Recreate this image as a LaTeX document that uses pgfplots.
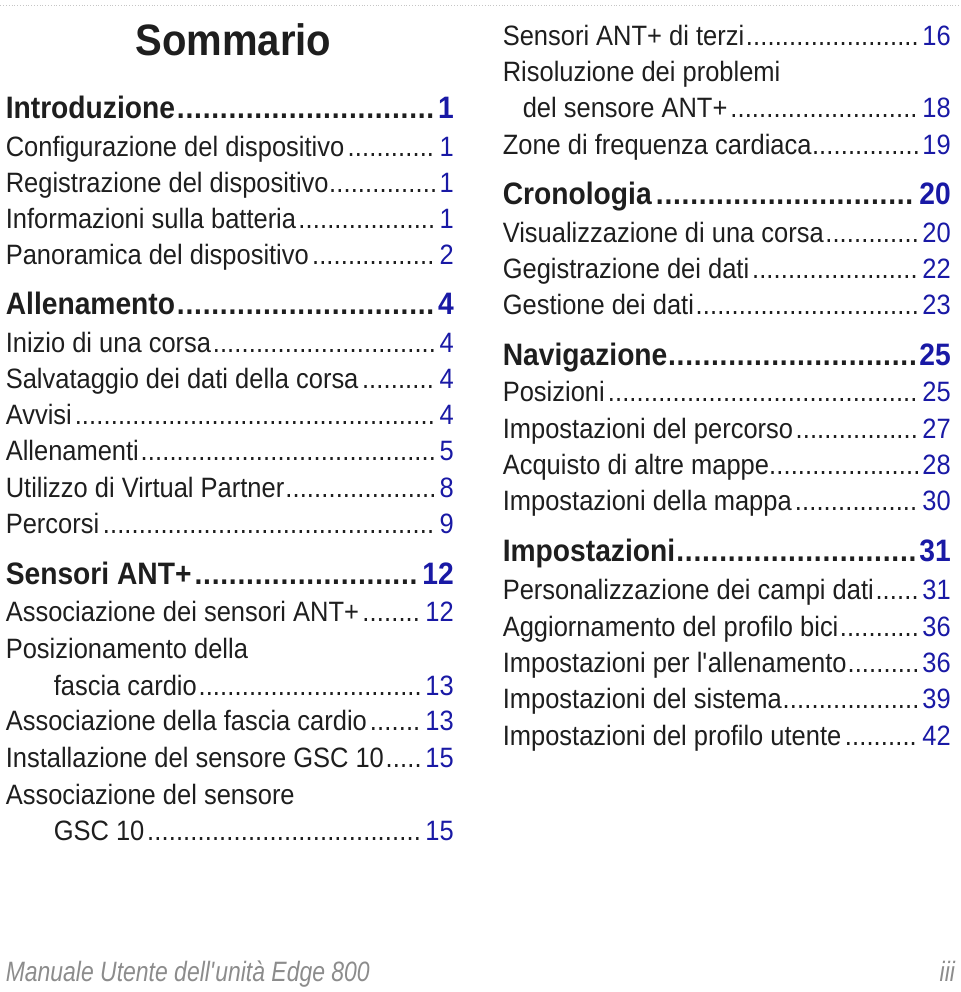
\documentclass[border=0pt]{standalone}
\usepackage{pgfplots}
\pgfplotsset{compat=1.18}
\usepackage{fontspec}
\setmainfont[FakeStretch=0.91]{Liberation Sans}
\newfontfamily\footfont[FakeStretch=0.82]{Liberation Sans}

\definecolor{tocdark}{RGB}{30,30,30}
\definecolor{tocblue}{RGB}{25,25,165}
\definecolor{tocgray}{RGB}{140,140,140}

% one picture pixel
\newlength\pxu
\setlength\pxu{0.5pt}

\newcommand{\leadA}{\cleaders\hbox to 3.6pt{\hss.\hss}\hfill}
\newcommand{\leadB}{\cleaders\hbox to 4.3pt{\hss.\hss}\hfill}

% x, baseline y, width (px), text, page
\newcommand{\entry}[5]{%
  \node[anchor=base west, inner sep=0pt] at (axis cs:#1,#2)
    {\makebox[#3\pxu][l]{\fontsize{14}{16}\selectfont\color{tocdark}#4\leadA\kern1pt{\color{tocblue}#5}}};}
\newcommand{\head}[5]{%
  \node[anchor=base west, inner sep=0pt] at (axis cs:#1,#2)
    {\makebox[#3\pxu][l]{\fontsize{15.5}{17}\selectfont\bfseries\color{tocdark}#4\leadB\kern1pt{\color{tocblue}#5}}};}
\newcommand{\plain}[3]{%
  \node[anchor=base west, inner sep=0pt] at (axis cs:#1,#2)
    {\fontsize{14}{16}\selectfont\color{tocdark}#3};}

\begin{document}
\begin{tikzpicture}
\begin{axis}[
    width=480pt, height=496pt, scale only axis,
    xmin=0, xmax=960, ymin=0, ymax=992, y dir=reverse,
    hide axis, clip=false]
\addplot[draw=none] coordinates {(0,0) (960,992)};

% dotted rule at the top
\draw[densely dotted, gray!45, line width=0.4pt] (axis cs:0,5) -- (axis cs:960,5);

\node[anchor=base, inner sep=0pt] at (axis cs:233,55)
  {\fontsize{22}{25}\selectfont\bfseries\color{tocdark}Sommario};

% left column
\head{5}{118}{448}{Introduzione}{1}
\entry{5}{156}{448}{Configurazione del dispositivo}{1}
\entry{5}{192}{448}{Registrazione del dispositivo}{1}
\entry{5}{228}{448}{Informazioni sulla batteria}{1}
\entry{5}{264}{448}{Panoramica del dispositivo}{2}
\head{5}{314}{448}{Allenamento}{4}
\entry{5}{352}{448}{Inizio di una corsa}{4}
\entry{5}{388}{448}{Salvataggio dei dati della corsa}{4}
\entry{5}{424}{448}{Avvisi}{4}
\entry{5}{460}{448}{Allenamenti}{5}
\entry{5}{497}{448}{Utilizzo di Virtual Partner}{8}
\entry{5}{533}{448}{Percorsi}{9}
\head{5}{584}{448}{Sensori ANT+}{12}
\entry{5}{621}{448}{Associazione dei sensori ANT+}{12}
\plain{5}{658}{Posizionamento della}
\entry{53}{695}{400}{fascia cardio}{13}
\entry{5}{730}{448}{Associazione della fascia cardio}{13}
\entry{5}{767}{448}{Installazione del sensore GSC 10}{15}
\plain{5}{804}{Associazione del sensore}
\entry{53}{840}{400}{GSC 10}{15}

% right column
\entry{502}{45}{448}{Sensori ANT+ di terzi}{16}
\plain{502}{81}{Risoluzione dei problemi}
\entry{522}{117}{428}{del sensore ANT+}{18}
\entry{502}{154}{448}{Zone di frequenza cardiaca}{19}
\head{502}{204}{448}{Cronologia}{20}
\entry{502}{242}{448}{Visualizzazione di una corsa}{20}
\entry{502}{278}{448}{Gegistrazione dei dati}{22}
\entry{502}{314}{448}{Gestione dei dati}{23}
\head{502}{365}{448}{Navigazione}{25}
\entry{502}{401}{448}{Posizioni}{25}
\entry{502}{438}{448}{Impostazioni del percorso}{27}
\entry{502}{474}{448}{Acquisto di altre mappe}{28}
\entry{502}{510}{448}{Impostazioni della mappa}{30}
\head{502}{561}{448}{Impostazioni}{31}
\entry{502}{599}{448}{Personalizzazione dei campi dati}{31}
\entry{502}{636}{448}{Aggiornamento del profilo bici}{36}
\entry{502}{672}{448}{Impostazioni per l\textquotesingle allenamento}{36}
\entry{502}{708}{448}{Impostazioni del sistema}{39}
\entry{502}{745}{448}{Impostazioni del profilo utente}{42}

% footer
\node[anchor=base west, inner sep=0pt] at (axis cs:5,981)
  {\fontsize{14}{16}\selectfont\footfont\itshape\color{tocgray}Manuale Utente dell\textquotesingle unit\`a Edge 800};
\node[anchor=base east, inner sep=0pt] at (axis cs:955,981)
  {\fontsize{14}{16}\selectfont\footfont\itshape\color{tocgray}iii};
\end{axis}
\end{tikzpicture}
\end{document}
